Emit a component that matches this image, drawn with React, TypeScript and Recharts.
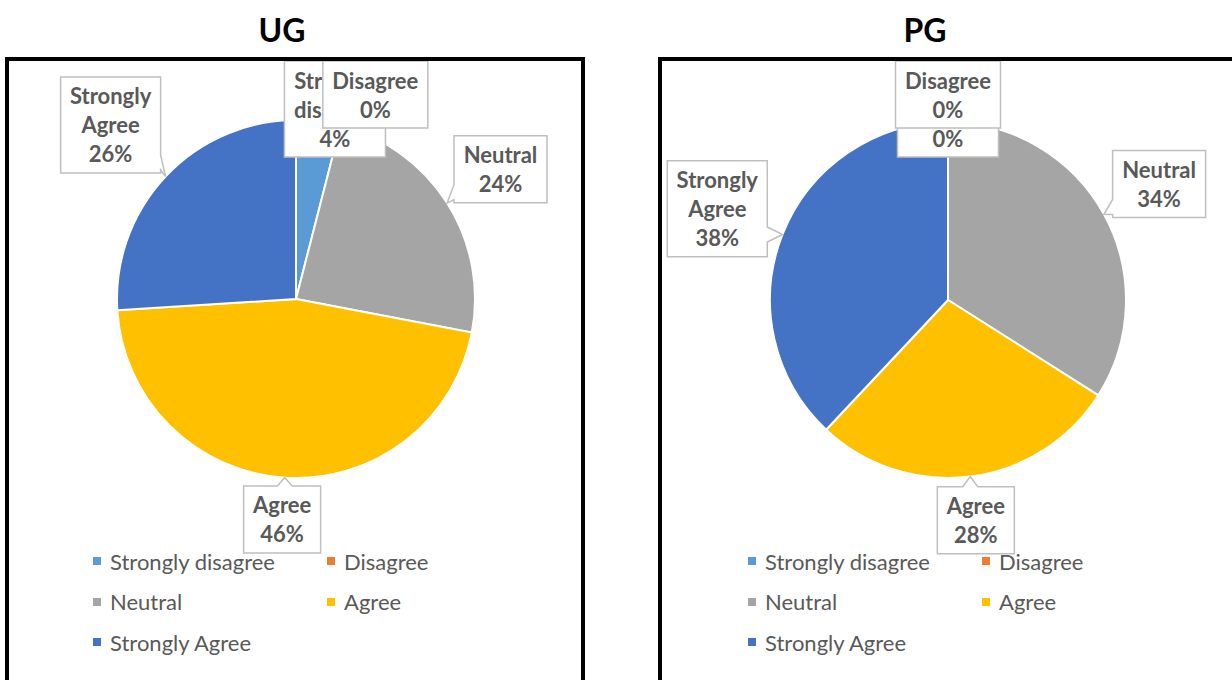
import React from 'react';
import { PieChart, Pie, Cell, Legend } from 'recharts';

// ---- data ----
const categories = ['Strongly disagree', 'Disagree', 'Neutral', 'Agree', 'Strongly Agree'];
const ugValues = [4, 0, 24, 46, 26];
const pgValues = [0, 0, 34, 28, 38];
const colors = ['#5B9BD5', '#ED7D31', '#A5A5A5', '#FFC000', '#4472C4'];
const chartTitles = ['UG', 'PG'];

const ugData = categories.map((name, i) => ({ name, value: ugValues[i] }));
const pgData = categories.map((name, i) => ({ name, value: pgValues[i] }));

// ---- styling / layout ----
const FONT = 'Lato, "Open Sans", "DejaVu Sans", sans-serif';
const LABEL_FONT_SIZE = 22;
const LINE_H = 29;
const TEXT_COLOR = '#595959';
const BOX_STROKE = '#BFBFBF';

let measureCtx: CanvasRenderingContext2D | null = null;
function measure(text: string, font: string): number {
  if (!measureCtx && typeof document !== 'undefined') {
    const c = document.createElement('canvas');
    measureCtx = c.getContext('2d');
  }
  if (measureCtx) {
    measureCtx.font = font;
    return measureCtx.measureText(text).width;
  }
  return text.length * 11;
}

function makeLabel(nudgeX: number[], plotTop: number) {
  return (props: any) => {
    const { cx, cy, midAngle, outerRadius, percent, name, index } = props;
    const lines = [...String(name).split(' '), `${Math.round((percent || 0) * 100)}%`];
    const font = `bold ${LABEL_FONT_SIZE}px ${FONT}`;
    const textW = Math.max(...lines.map((l) => measure(l, font)));
    const w = Math.round(textW + 19);
    const h = lines.length * LINE_H + 9;
    const rad = (-midAngle * Math.PI) / 180;
    const ux = Math.cos(rad);
    const uy = Math.sin(rad);
    const gap = 6;
    const d = outerRadius + gap + (w / 2) * Math.abs(ux) + (h / 2) * Math.abs(uy);
    const bx = cx + ux * d + (nudgeX[index] || 0);
    const by = cy + uy * d;
    const x0 = bx - w / 2;
    let y0 = by - h / 2;
    if (y0 < plotTop) y0 = plotTop;
    const x1 = x0 + w;
    const y1 = y0 + h;
    const tipX = cx + ux * outerRadius;
    const tipY = cy + uy * outerRadius;

    const dxOut = tipX < x0 ? x0 - tipX : tipX > x1 ? tipX - x1 : 0;
    const dyOut = tipY < y0 ? y0 - tipY : tipY > y1 ? tipY - y1 : 0;
    let side = '';
    if (Math.max(dxOut, dyOut) >= 2) {
      if (dyOut >= dxOut) side = tipY < y0 ? 'top' : 'bottom';
      else side = tipX < x0 ? 'left' : 'right';
    }
    const bw = 15;
    const clamp = (v: number, a: number, b: number) => Math.max(a, Math.min(b, v));
    const cH = clamp(tipX, x0 + bw / 2 + 3, x1 - bw / 2 - 3);
    const cV = clamp(tipY, y0 + bw / 2 + 3, y1 - bw / 2 - 3);

    let p = `M${x0},${y0}`;
    if (side === 'top') p += ` L${cH - bw / 2},${y0} L${tipX},${tipY} L${cH + bw / 2},${y0}`;
    p += ` L${x1},${y0}`;
    if (side === 'right') p += ` L${x1},${cV - bw / 2} L${tipX},${tipY} L${x1},${cV + bw / 2}`;
    p += ` L${x1},${y1}`;
    if (side === 'bottom') p += ` L${cH + bw / 2},${y1} L${tipX},${tipY} L${cH - bw / 2},${y1}`;
    p += ` L${x0},${y1}`;
    if (side === 'left') p += ` L${x0},${cV + bw / 2} L${tipX},${tipY} L${x0},${cV - bw / 2}`;
    p += ' Z';

    return (
      <g key={`lbl-${index}`}>
        <path d={p} fill="#fff" stroke={BOX_STROKE} strokeWidth={1.5} />
        {lines.map((l, i) => (
          <text
            key={i}
            x={x0 + w / 2}
            y={y0 + 27.5 + i * LINE_H}
            textAnchor="middle"
            fill={TEXT_COLOR}
            fontFamily={FONT}
            fontWeight="bold"
            fontSize={LABEL_FONT_SIZE}
          >
            {l}
          </text>
        ))}
      </g>
    );
  };
}

const renderLegend = (props: any) => {
  const payload = [...(props.payload || [])].sort(
    (a: any, b: any) => categories.indexOf(a.value) - categories.indexOf(b.value)
  );
  return (
    <div
      style={{
        display: 'grid',
        gridTemplateColumns: '234px 234px',
        fontFamily: FONT,
        fontSize: 22,
        color: TEXT_COLOR,
      }}
    >
      {payload.map((entry: any, i: number) => {
        const idx = categories.indexOf(entry.value);
        return (
          <div key={i} style={{ display: 'flex', alignItems: 'center', height: 40.5, whiteSpace: 'nowrap' }}>
            <span
              style={{
                display: 'inline-block',
                width: 8,
                height: 8,
                background: colors[idx >= 0 ? idx : i],
                marginRight: 9,
              }}
            />
            <span>{entry.value}</span>
          </div>
        );
      })}
    </div>
  );
};

type PanelProps = {
  data: { name: string; value: number }[];
  left: number;
  cx: number;
  cy: number;
  r: number;
  nudge: number[];
  legendLeft: number;
};

function Panel({ data, left, cx, cy, r, nudge, legendLeft }: PanelProps) {
  return (
    <div style={{ position: 'absolute', left, top: 0 }}>
      <PieChart width={616} height={680} margin={{ top: 0, right: 0, bottom: 0, left: 0 }}>
        <Pie
          data={data}
          dataKey="value"
          nameKey="name"
          cx={cx}
          cy={cy}
          outerRadius={r}
          startAngle={90}
          endAngle={-270}
          stroke="#ffffff"
          strokeWidth={2}
          isAnimationActive={false}
          labelLine={false}
          label={makeLabel(nudge, 61)}
        >
          {data.map((d, i) => (
            <Cell key={d.name} fill={colors[i]} />
          ))}
        </Pie>
        <Legend
          content={renderLegend}
          itemSorter={null as any}
          wrapperStyle={{ position: 'absolute', left: legendLeft, top: 541, width: 480, bottom: 'auto' }}
        />
      </PieChart>
    </div>
  );
}

export default function App() {
  return (
    <div
      style={{
        position: 'absolute',
        left: 0,
        top: 0,
        width: 1232,
        height: 680,
        overflow: 'hidden',
        background: '#fff',
      }}
    >
      <Panel data={ugData} left={0} cx={296} cy={299} r={179} nudge={[9, 22, 0, 0, 0]} legendLeft={93} />
      <Panel data={pgData} left={616} cx={332} cy={300} r={178} nudge={[0, 0, 0, 0, 0]} legendLeft={132} />

      {/* panel borders */}
      <div
        style={{
          position: 'absolute',
          left: 5,
          top: 57,
          width: 572,
          height: 700,
          border: '4px solid #000',
          pointerEvents: 'none',
        }}
      />
      <div
        style={{
          position: 'absolute',
          left: 658,
          top: 57,
          width: 600,
          height: 700,
          border: '4px solid #000',
          pointerEvents: 'none',
        }}
      />

      {/* titles */}
      {chartTitles.map((t, i) => (
        <div
          key={t}
          style={{
            position: 'absolute',
            left: i === 0 ? 182 : 825,
            top: 10,
            width: 200,
            textAlign: 'center',
            fontFamily: FONT,
            fontWeight: 'bold',
            fontSize: 32,
            lineHeight: '40px',
            color: '#000',
          }}
        >
          {t}
        </div>
      ))}
    </div>
  );
}
